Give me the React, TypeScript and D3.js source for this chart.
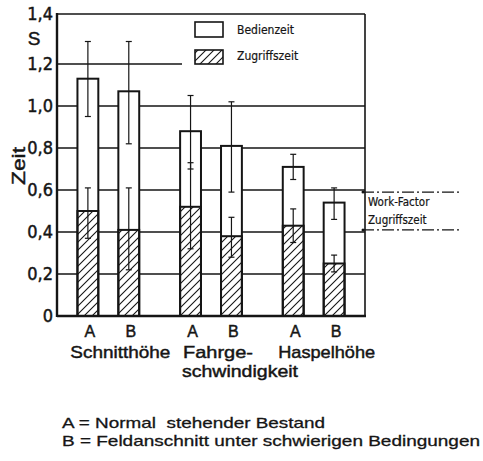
import React from 'react'
import * as d3 from 'd3'

// Zeitanteile je Variante (Bedienzeit = Gesamthoehe, Zugriffszeit = schraffierter Teil)
const groups = ['Schnitthöhe', 'Fahrge-|schwindigkeit', 'Haspelhöhe']
const variants = ['A', 'B']
const totalTime = [1.13, 1.07, 0.88, 0.81, 0.71, 0.54]
const totalLow = [0.95, 0.82, 0.70, 0.59, 0.65, 0.46]
const totalHigh = [1.29, 1.29, 1.05, 1.02, 0.77, 0.61]
const accessTime = [0.50, 0.41, 0.52, 0.38, 0.43, 0.25]
const accessLow = [0.37, 0.22, 0.32, 0.28, 0.35, 0.21]
const accessHigh = [0.61, 0.61, 0.73, 0.47, 0.51, 0.29]
const yTicks = [0, 0.2, 0.4, 0.6, 0.8, 1.0, 1.2, 1.4]
const workFactor = [0.41, 0.59]
const legendLabels = ['Bedienzeit', 'Zugriffszeit']
const footnotes = ['A = Normal  stehender Bestand', 'B = Feldanschnitt unter schwierigen Bedingungen']

const W = 483
const H = 461
const left = 57
const right = 365
const ink = '#151515'
const font = "'Liberation Sans Narrow', 'DejaVu Sans Condensed', 'Liberation Sans', sans-serif"
const wideFont = "'Liberation Sans', 'DejaVu Sans', sans-serif"

// label layout: horizontal shift from group centre and stretched widths per line
const labelShift = [12, 29, 13]
const labelWidths = [[100], [70, 116], [97]]
const footWidths = [263, 418]

export default function App() {
  // the scan is not quite linear near the top, hence the extra stop at 1.2
  const y = d3.scaleLinear().domain([0, 1.2, 1.4]).range([316, 64, 14])
  const x0 = d3.scaleBand().domain(groups).range([left, right])
  const x1 = d3.scaleBand().domain(variants).range([0, x0.bandwidth()]).paddingInner(0.49).paddingOuter(0.5)
  const fmt = (v: number) => (v === 0 ? '0' : v.toFixed(1).replace('.', ','))

  const bars = groups.flatMap((g, gi) =>
    variants.map((v, vi) => {
      const i = gi * 2 + vi
      return { g, v, i, x: (x0(g) ?? 0) + (x1(v) ?? 0) }
    })
  )
  const bw = x1.bandwidth()

  const errBar = (cx: number, lo: number, hi: number, key: string) => (
    <g key={key} stroke={ink} strokeWidth={1.2}>
      <line x1={cx} x2={cx} y1={y(lo)} y2={y(hi)} />
      <line x1={cx - 3} x2={cx + 3} y1={y(lo)} y2={y(lo)} />
      <line x1={cx - 3} x2={cx + 3} y1={y(hi)} y2={y(hi)} />
    </g>
  )

  const txt = { fill: ink, stroke: ink, strokeWidth: 0.45 }

  return (
    <svg width={W} height={H} style={{ position: 'absolute', left: 0, top: 0, background: '#fff' }}>
      <defs>
        <pattern id="hatch" patternUnits="userSpaceOnUse" width={8} height={8}>
          <path d="M-2,2 l4,-4 M0,8 l8,-8 M6,10 l4,-4" stroke={ink} strokeWidth={1.1} />
        </pattern>
      </defs>
      <rect width={W} height={H} fill="#fff" />

      {/* grid */}
      {yTicks.filter(t => t > 0 && t < 1.2).map(t => (
        <line key={t} x1={left} x2={right} y1={y(t)} y2={y(t)} stroke={ink} strokeWidth={1.3} />
      ))}
      <line x1={left} x2={182} y1={y(1.2)} y2={y(1.2)} stroke={ink} strokeWidth={1.3} />

      {/* frame */}
      <line x1={left} x2={right} y1={y(1.4)} y2={y(1.4)} stroke={ink} strokeWidth={1.6} />
      <line x1={right} x2={right} y1={y(1.4)} y2={y(0)} stroke={ink} strokeWidth={1.6} />

      {/* bars */}
      {bars.map(b => (
        <g key={b.i}>
          <rect x={b.x} width={bw} y={y(totalTime[b.i])} height={y(0) - y(totalTime[b.i])}
            fill="#fff" stroke={ink} strokeWidth={2} />
          <rect x={b.x} width={bw} y={y(accessTime[b.i])} height={y(0) - y(accessTime[b.i])}
            fill="url(#hatch)" stroke={ink} strokeWidth={2} />
        </g>
      ))}
      {bars.map(b => errBar(b.x + bw / 2, totalLow[b.i], totalHigh[b.i], 't' + b.i))}
      {bars.map(b => errBar(b.x + bw / 2, accessLow[b.i], accessHigh[b.i], 'a' + b.i))}

      {/* axes */}
      <line x1={left} x2={left} y1={y(1.4) - 1} y2={y(0) + 1} stroke={ink} strokeWidth={2.4} />
      <line x1={left} x2={right + 1} y1={y(0)} y2={y(0)} stroke={ink} strokeWidth={2.4} />
      {yTicks.map(t => (
        <text key={t} x={53} y={y(t)} dy="0.36em" textAnchor="end" fontFamily={font} fontSize={18} {...txt}>
          {fmt(t)}
        </text>
      ))}
      <text x={34} y={45} textAnchor="middle" fontFamily={wideFont} fontSize={19} {...txt}>S</text>
      <text transform="translate(25,166) rotate(-90)" textAnchor="middle" fontFamily={wideFont}
        fontSize={18} {...txt} textLength={38} lengthAdjust="spacingAndGlyphs">Zeit</text>

      {/* category labels */}
      {bars.map(b => (
        <text key={'l' + b.i} x={b.x + bw / 2 + 2} y={337} textAnchor="middle" fontFamily={wideFont} fontSize={16} {...txt}>
          {b.v}
        </text>
      ))}
      {groups.map((g, gi) => {
        const lines = g.split('|')
        const cx = (x0(g) ?? 0) + x0.bandwidth() / 2 + labelShift[gi]
        return lines.map((l, k) => {
          const w = labelWidths[gi][k]
          const x = lines.length > 1 ? cx - labelWidths[gi][1] / 2 + (k === 0 ? 1 : 0) : cx - w / 2
          return (
            <text key={g + k} x={x} y={358 + k * 19} fontFamily={wideFont} fontSize={17} {...txt}
              textLength={w} lengthAdjust="spacingAndGlyphs">{l}</text>
          )
        })
      })}

      {/* legend */}
      <rect x={195} y={22} width={28} height={15} fill="#fff" stroke={ink} strokeWidth={1.6} />
      <rect x={195} y={50} width={28} height={14} fill="url(#hatch)" stroke={ink} strokeWidth={1.6} />
      {legendLabels.map((l, k) => (
        <text key={l} x={237} y={34 + k * 26} fontFamily={font} fontSize={12} {...txt} strokeWidth={0.2}>{l}</text>
      ))}

      {/* Work-Factor range */}
      {workFactor.map(v => (
        <g key={v}>
          <line x1={362} x2={459} y1={y(v)} y2={y(v)} stroke={ink} strokeWidth={1.1} strokeDasharray="12,3,2,3" />
          <circle cx={363} cy={y(v)} r={1.5} fill={ink} />
        </g>
      ))}
      <text x={368} y={206} fontFamily={font} fontSize={11.5} {...txt} strokeWidth={0.2}>Work-Factor</text>
      <text x={368} y={224} fontFamily={font} fontSize={11.5} {...txt} strokeWidth={0.2}>Zugriffszeit</text>

      {/* footnote */}
      {footnotes.map((f, k) => (
        <text key={k} x={62} y={428 + k * 18} fontFamily={wideFont} fontSize={15} {...txt} strokeWidth={0.3}
          textLength={footWidths[k]} lengthAdjust="spacingAndGlyphs" style={{ whiteSpace: 'pre' }}>{f}</text>
      ))}
    </svg>
  )
}
